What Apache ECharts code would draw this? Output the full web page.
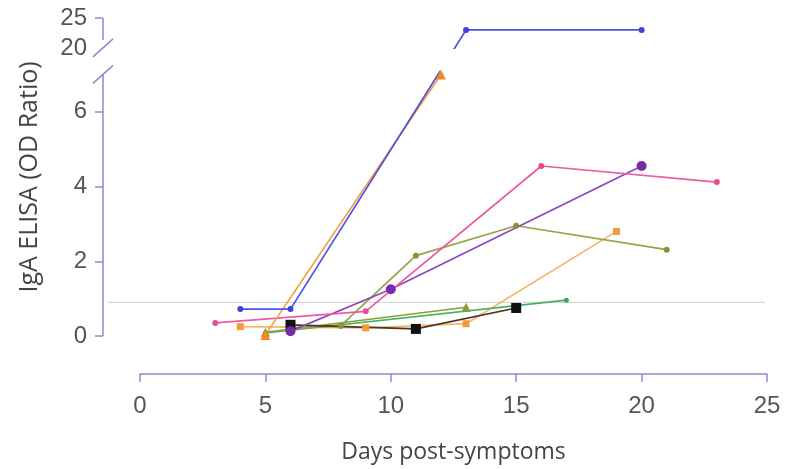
<!DOCTYPE html>
<html><head><meta charset="utf-8">
<script src="https://cdn.jsdelivr.net/npm/echarts@6/dist/echarts.min.js"></script>
<style>html,body{margin:0;padding:0;background:#fff}#c{width:785px;height:469px}</style>
</head><body><div id="c"></div>
<script>
// ---- data ----
const xTicks = [0, 5, 10, 15, 20, 25];
const yTicksLow = [0, 2, 4, 6];
const yTicksHigh = [20, 25];
const threshold = 0.9;

const blueX = [4, 6, 13, 20];           const blueY = [0.72, 0.72, 23, 23];
const orangeAX = [4, 9, 13, 19];        const orangeAY = [0.25, 0.22, 0.33, 2.8];
const orangeBX = [5, 12];               const orangeBY = [0.03, 7.0];
const pinkX = [3, 9, 16, 23];           const pinkY = [0.35, 0.66, 4.55, 4.12];
const purpleX = [6, 10, 20];            const purpleY = [0.13, 1.25, 4.55];
const oliveX = [6, 8, 11, 15, 21];      const oliveY = [0.2, 0.27, 2.15, 2.95, 2.31];
const oliveTriX = [5, 13];              const oliveTriY = [0.1, 0.77];
const greenX = [5, 17];                 const greenY = [0.08, 0.96];
const blackX = [6, 11, 15];             const blackY = [0.3, 0.19, 0.75];

// ---- broken axis transform ----
const LOW_MAX = 7, HIGH_MIN = 20, HIGH_MAX = 25;
const GAP_V = 0.71, HIGH_K = 0.16;
function toAxis(y) { return y <= LOW_MAX ? y : LOW_MAX + GAP_V + (y - HIGH_MIN) * HIGH_K; }
function fromAxis(v) { return v <= LOW_MAX + 1e-6 ? v : HIGH_MIN + (v - LOW_MAX - GAP_V) / HIGH_K; }
const V_MAX = toAxis(HIGH_MAX);

const AXIS_COLOR = '#8a8ad0';
const LABEL_FONT = "'Liberation Sans Narrow','Liberation Sans',Arial,sans-serif";
const TITLE_FONT = "'Open Sans','Noto Sans',sans-serif";

function mk(name, xs, ys, color, lineColor, symbol, size) {
  return {
    name, type: 'line', data: xs.map((x, i) => [x, toAxis(ys[i])]),
    symbol, symbolSize: size, showSymbol: true,
    lineStyle: { color: lineColor, width: 1.7 },
    itemStyle: { color }, emphasis: { disabled: true }
  };
}

const chart = echarts.init(document.getElementById('c'), null, { renderer: 'canvas' });
const Y_OFFSET = 37;
chart.setOption({
  animation: false,
  backgroundColor: '#fff',
  grid: { left: 140, right: 18, top: 18, bottom: 131 },
  xAxis: {
    type: 'value', min: 0, max: 25, interval: 5, offset: 38,
    axisLine: { onZero: false, lineStyle: { color: AXIS_COLOR, width: 1.5 } },
    axisTick: { show: true, length: 8, lineStyle: { color: AXIS_COLOR, width: 1.5 } },
    axisLabel: { color: '#555', fontSize: 24, fontFamily: LABEL_FONT, margin: 20 },
    splitLine: { show: false },
    name: 'Days post-symptoms', nameLocation: 'middle', nameGap: 67,
    nameTextStyle: { color: '#444', fontSize: 23, fontFamily: TITLE_FONT }
  },
  yAxis: {
    type: 'value', min: 0, max: V_MAX, offset: Y_OFFSET,
    axisLine: { show: false, onZero: false },
    axisTick: { show: true, length: 8, customValues: yTicksLow.concat([toAxis(yTicksHigh[1])]),
      lineStyle: { color: AXIS_COLOR, width: 1.5 } },
    axisLabel: { customValues: yTicksLow.concat(yTicksHigh.map(toAxis)),
      formatter: v => String(Math.round(fromAxis(v))),
      color: '#555', fontSize: 24, fontFamily: LABEL_FONT, margin: 16 },
    splitLine: { show: false },
    name: 'IgA ELISA (OD Ratio)', nameLocation: 'middle', nameGap: 61,
    nameTextStyle: { color: '#444', fontSize: 25, fontFamily: TITLE_FONT }
  },
  series: [
    mk('orangeA', orangeAX, orangeAY, '#f49a3c', '#f8b565', 'rect', 7),
    mk('green', greenX, greenY, '#3aa85a', '#44b064', 'circle', 5),
    mk('oliveTri', oliveTriX, oliveTriY, '#8d9c35', '#8d9c35', 'triangle', 9),
    mk('olive', oliveX, oliveY, '#86923c', '#98a24a', 'circle', 6),
    mk('black', blackX, blackY, '#111', '#4a3526', 'rect', 10),
    mk('purple', purpleX, purpleY, '#7a2aa8', '#8e46c0', 'circle', 10),
    mk('pink', pinkX, pinkY, '#e54c97', '#ec5aa3', 'circle', 6),
    mk('orangeB', orangeBX, orangeBY, '#f38a25', '#f5a040', 'triangle', 10),
    mk('blue', blueX, blueY, '#4040dd', '#5050e6', 'circle', 6)
  ]
});

// decorations derived from the axis scale: broken y-axis line, slashes, gap mask, threshold
const p0 = chart.convertToPixel({ gridIndex: 0 }, [0, 0]);
const py = v => chart.convertToPixel({ gridIndex: 0 }, [0, v])[1];
const pxr = chart.convertToPixel({ gridIndex: 0 }, [25, 0])[0];
const ax = p0[0] - Y_OFFSET;
const yLowTop = py(LOW_MAX), yHighBot = py(toAxis(HIGH_MIN)), yTop = py(V_MAX);
const ls = { stroke: AXIS_COLOR, lineWidth: 1.5 };
chart.setOption({
  graphic: [
    { type: 'rect', z: 50, silent: true,
      shape: { x: ax + 14, y: yHighBot + 1, width: pxr - ax, height: yLowTop - yHighBot - 5 },
      style: { fill: '#fff' } },
    { type: 'line', z: 1, silent: true,
      shape: { x1: ax + 5, y1: py(threshold), x2: pxr - 2, y2: py(threshold) },
      style: { stroke: '#cdcdcd', lineWidth: 1 } },
    { type: 'line', z: 60, silent: true, shape: { x1: ax, y1: p0[1], x2: ax, y2: yLowTop }, style: ls },
    { type: 'line', z: 60, silent: true, shape: { x1: ax, y1: yTop, x2: ax, y2: yHighBot - 8 }, style: ls },
    { type: 'line', z: 60, silent: true, shape: { x1: ax - 10, y1: yLowTop + 9, x2: ax + 10, y2: yLowTop - 9 }, style: ls },
    { type: 'line', z: 60, silent: true, shape: { x1: ax - 10, y1: yHighBot + 9, x2: ax + 10, y2: yHighBot - 9 }, style: ls }
  ]
});
</script>
</body></html>
